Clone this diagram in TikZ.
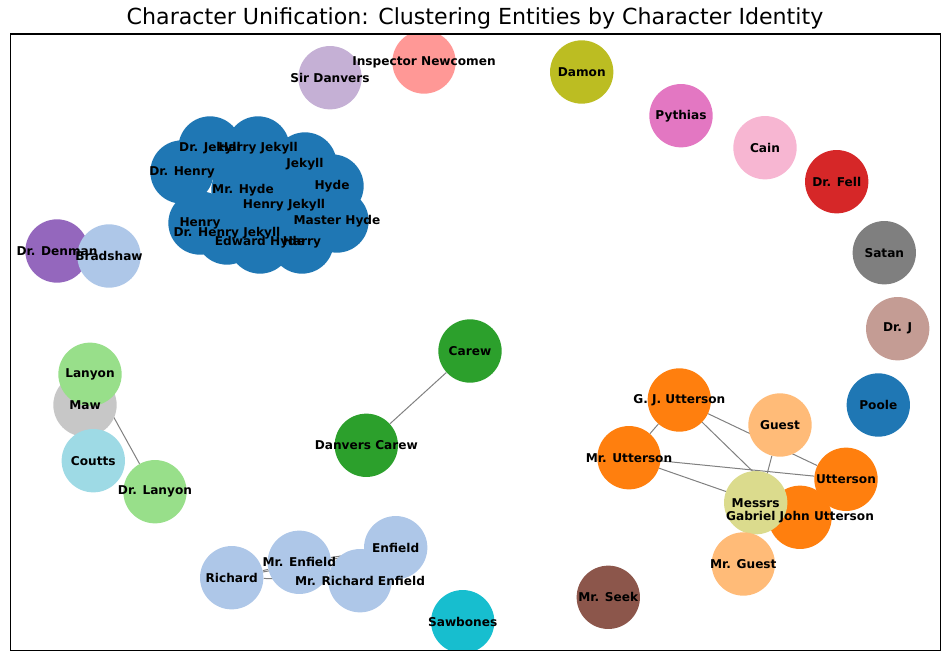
\documentclass[tikz,border=0pt]{standalone}
\usepackage{fontspec}
\setmainfont{DejaVu Sans}
\usetikzlibrary{backgrounds}
\pgfdeclarelayer{front}
\pgfsetlayers{background,main,front}
\definecolor{cA}{HTML}{1F77B4}
\definecolor{cAl}{HTML}{AEC7E8}
\definecolor{cB}{HTML}{FF7F0E}
\definecolor{cBl}{HTML}{FFBB78}
\definecolor{cC}{HTML}{2CA02C}
\definecolor{cCl}{HTML}{98DF8A}
\definecolor{cD}{HTML}{D62728}
\definecolor{cDl}{HTML}{FF9896}
\definecolor{cE}{HTML}{9467BD}
\definecolor{cEl}{HTML}{C5B0D5}
\definecolor{cF}{HTML}{8C564B}
\definecolor{cFl}{HTML}{C49C94}
\definecolor{cG}{HTML}{E377C2}
\definecolor{cGl}{HTML}{F7B6D2}
\definecolor{cH}{HTML}{7F7F7F}
\definecolor{cHl}{HTML}{C7C7C7}
\definecolor{cI}{HTML}{BCBD22}
\definecolor{cIl}{HTML}{DBDB8D}
\definecolor{cJ}{HTML}{17BECF}
\definecolor{cJl}{HTML}{9EDAE5}
\tikzset{
  nd/.style={circle, minimum size=47.5pt, inner sep=0pt, draw=none, fill=#1},
  lbl/.style={font=\fontsize{9.1}{10}\selectfont\bfseries, inner sep=0pt, text=black},
  edge/.style={draw=black!50, line width=0.75pt},
  frame/.style={draw=black, line width=0.8pt}
}
\begin{document}
\begin{tikzpicture}[x=0.75pt,y=-0.75pt]
\useasboundingbox (0,0) rectangle (950,660);
\node[font=\fontsize{16.6}{18}\selectfont] (title) at (475,18.5) {Character Unification: Clustering Entities by Character Identity};
\coordinate (fTL) at (10.5,34);
\coordinate (fBR) at (940.5,650.5);
\begin{scope}
\clip (fTL) rectangle (fBR);
% blue cluster
\node[nd=cA] (n1) at (210,148) {};
\node[nd=cA] (n2) at (258,148) {};
\node[nd=cA] (n3) at (305,164) {};
\node[nd=cA] (n4) at (182,172) {};
\node[nd=cA] (n5) at (332,186) {};
\node[nd=cA] (n6) at (243,190) {};
\node[nd=cA] (n7) at (284,205) {};
\node[nd=cA] (n8) at (200,223) {};
\node[nd=cA] (n9) at (337,221) {};
\node[nd=cA] (n10) at (227,233) {};
\node[nd=cA] (n11) at (260,242) {};
\node[nd=cA] (n12) at (302,242) {};
% singles top
\node[nd=cEl] (sd) at (330,77.7) {};
\node[nd=cDl] (in) at (424,62) {};
\node[nd=cI] (dam) at (581.7,72) {};
\node[nd=cG] (pyt) at (681,115.7) {};
\node[nd=cGl] (cain) at (765,147.7) {};
\node[nd=cD] (fell) at (836.7,181.7) {};
\node[nd=cH] (sat) at (884.3,252.7) {};
\node[nd=cFl] (drj) at (897.7,328.7) {};
\node[nd=cA] (poole) at (878.3,405) {};
\node[nd=cE] (den) at (57,251) {};
\node[nd=cAl] (brad) at (109,256) {};
% left group
\node[nd=cHl] (maw) at (85,405) {};
\node[nd=cCl] (lan) at (90,374.3) {};
\node[nd=cJl] (cou) at (93.3,460.7) {};
\node[nd=cCl] (dlan) at (155,491.7) {};
% carew
\node[nd=cC] (car) at (470,351) {};
\node[nd=cC] (dcar) at (366.3,445.3) {};
% enfield group
\node[nd=cAl] (ric) at (231.7,577.7) {};
\node[nd=cAl] (menf) at (299.3,562.3) {};
\node[nd=cAl] (enf) at (395.7,547.7) {};
\node[nd=cAl] (mre) at (360,580.7) {};
\node[nd=cJ] (saw) at (462.7,621.7) {};
\node[nd=cF] (seek) at (608.3,597.3) {};
% utterson group
\node[nd=cB] (gju) at (679.3,400) {};
\node[nd=cBl] (gst) at (780,425) {};
\node[nd=cB] (mut) at (629,457.7) {};
\node[nd=cB] (gab) at (800,517.3) {};
\node[nd=cB] (utt) at (846,479.3) {};
\node[nd=cIl] (mes) at (755.7,502.7) {};
\node[nd=cBl] (mgst) at (743.3,564) {};
\end{scope}
\begin{pgfonlayer}{background}
\draw[edge] (car) -- (dcar);
\draw[edge] (lan) -- (dlan);
\draw[edge] (ric) -- (menf);
\draw[edge] (ric) -- (enf);
\draw[edge] (ric) -- (mre);
\draw[edge] (menf) -- (enf);
\draw[edge] (menf) -- (mre);
\draw[edge] (enf) -- (mre);
\draw[edge] (gju) -- (mut);
\draw[edge] (gju) -- (utt);
\draw[edge] (gju) -- (gab);
\draw[edge] (gst) -- (mgst);
\draw[edge] (mut) -- (utt);
\draw[edge] (mut) -- (gab);
\end{pgfonlayer}
% labels
\node[lbl] (l1) at (n1) {Dr. Jekyll};
\node[lbl] (l2) at (n2) {Harry Jekyll};
\node[lbl] (l3) at (n3) {Jekyll};
\node[lbl] (l4) at (n4) {Dr. Henry};
\node[lbl] (l5) at (n5) {Hyde};
\node[lbl] (l6) at (n6) {Mr. Hyde};
\node[lbl] (l7) at (n7) {Henry Jekyll};
\node[lbl] (l8) at (n8) {Henry};
\node[lbl] (l9) at (n9) {Master Hyde};
\node[lbl] (l10) at (n10) {Dr. Henry Jekyll};
\node[lbl] (l11) at (n11) {Edward Hyde};
\node[lbl] (l12) at (n12) {Harry};
\node[lbl] (lsd) at (sd) {Sir Danvers};
\node[lbl] (lin) at (in) {Inspector Newcomen};
\node[lbl] (ldam) at (dam) {Damon};
\node[lbl] (lpyt) at (pyt) {Pythias};
\node[lbl] (lcain) at (cain) {Cain};
\node[lbl] (lfell) at (fell) {Dr. Fell};
\node[lbl] (lsat) at (sat) {Satan};
\node[lbl] (ldrj) at (drj) {Dr. J};
\node[lbl] (lpoole) at (poole) {Poole};
\node[lbl] (lden) at (den) {Dr. Denman};
\node[lbl] (lbrad) at (brad) {Bradshaw};
\node[lbl] (lmaw) at (maw) {Maw};
\node[lbl] (llan) at (lan) {Lanyon};
\node[lbl] (lcou) at (cou) {Coutts};
\node[lbl] (ldlan) at (dlan) {Dr. Lanyon};
\node[lbl] (lcar) at (car) {Carew};
\node[lbl] (ldcar) at (dcar) {Danvers Carew};
\node[lbl] (lric) at (ric) {Richard};
\node[lbl] (lmenf) at (menf) {Mr. Enfield};
\node[lbl] (lenf) at (enf) {Enfield};
\node[lbl] (lmre) at (mre) {Mr. Richard Enfield};
\node[lbl] (lsaw) at (saw) {Sawbones};
\node[lbl] (lseek) at (seek) {Mr. Seek};
\node[lbl] (lgju) at (gju) {G. J. Utterson};
\node[lbl] (lgst) at (gst) {Guest};
\node[lbl] (lmut) at (mut) {Mr. Utterson};
\node[lbl] (lgab) at (gab) {Gabriel John Utterson};
\node[lbl] (lutt) at (utt) {Utterson};
\node[lbl] (lmes) at (mes) {Messrs};
\node[lbl] (lmgst) at (mgst) {Mr. Guest};
\begin{pgfonlayer}{front}
\draw[frame] (fTL) rectangle (fBR);
\end{pgfonlayer}
\end{tikzpicture}
\end{document}
